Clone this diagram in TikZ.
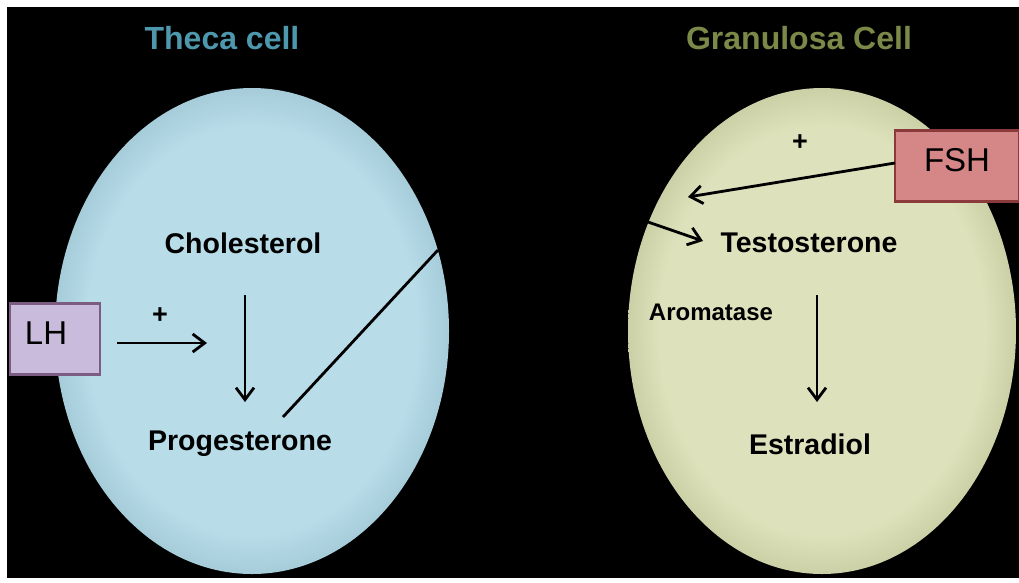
\documentclass[tikz,border=0pt]{standalone}
\usepackage{fontspec}
\setmainfont{Liberation Sans}
\usetikzlibrary{arrows.meta}
\definecolor{bgblack}{HTML}{000000}
\definecolor{thecafill}{HTML}{B8DCE8}
\definecolor{thecarim}{HTML}{A6CCDA}
\definecolor{granfill}{HTML}{DEE2BC}
\definecolor{granrim}{HTML}{CCD0A6}
\definecolor{thecatitle}{HTML}{4E98AE}
\definecolor{grantitle}{HTML}{7A8848}
\definecolor{lhfill}{HTML}{C9BBDC}
\definecolor{lhdraw}{HTML}{7C5C80}
\definecolor{fshfill}{HTML}{D58686}
\definecolor{fshdraw}{HTML}{8A3A3A}
\pgfdeclareradialshading{thecashade}{\pgfpoint{0bp}{0bp}}{color(0bp)=(thecafill); color(21bp)=(thecafill); color(25bp)=(thecarim); color(50bp)=(thecarim)}
\pgfdeclareradialshading{granshade}{\pgfpoint{0bp}{0bp}}{color(0bp)=(granfill); color(21bp)=(granfill); color(25bp)=(granrim); color(50bp)=(granrim)}
\tikzset{
  title/.style={font=\bfseries\fontsize{32}{34}\selectfont},
  mol/.style={font=\bfseries\fontsize{28.5}{30}\selectfont, text=black, inner sep=0pt},
  plus/.style={font=\bfseries\fontsize{27}{28}\selectfont, text=black, inner sep=0pt},
  hormone/.style={draw, line width=2.5pt, font=\fontsize{33}{35}\selectfont, inner sep=0pt},
  arr/.style={draw=black, line width=2.8pt, -{Straight Barb[length=12pt,width=18pt,line width=2.8pt]}},
  plainline/.style={draw=black, line width=2.8pt}
}
\begin{document}
\begin{tikzpicture}[x=1pt,y=-1pt]
\useasboundingbox (0,0) rectangle (1019,582);
\fill[white] (0,0) rectangle (1019,582);
\fill[bgblack] (7,7) rectangle (1019,578);
% cells
\shade[shading=thecashade] (252,331) ellipse [x radius=197, y radius=243];
\shade[shading=granshade] (822,331) ellipse [x radius=194, y radius=243];
% titles
\node[title, text=thecatitle] (thecaT) at (222,38) {Theca cell};
\node[title, text=grantitle] (granT) at (799,38) {Granulosa Cell};
% molecules
\node[mol] (chol) at (243,243) {Cholesterol};
\node[mol] (prog) at (240,444) {Progesterone};
\node[mol] (test) at (809,243) {Testosterone};
\node[mol] (estr) at (810,444) {Estradiol};
\node[mol, font=\bfseries\fontsize{24}{26}\selectfont] (arom) at (711,312) {Aromatase};
% hormone boxes
\node[hormone, fill=lhfill, draw=lhdraw, minimum width=90pt, minimum height=71pt] (LH) at (55,339) {};
\node[font=\fontsize{33}{35}\selectfont, inner sep=0pt] (LHt) at (46,333) {LH};
\node[hormone, fill=fshfill, draw=fshdraw, minimum width=124pt, minimum height=71pt] (FSH) at (957,166) {};
\node[font=\fontsize{33}{35}\selectfont, inner sep=0pt] (FSHt) at (957,160) {FSH};
% plus signs
\node[plus] (plus1) at (160,316) {+};
\node[plus] (plus2) at (800,143) {+};
% connectors
\coordinate (lhs) at (117,343);
\coordinate (lhe) at (207,343);
\draw[arr] (lhs) -- (lhe);
\coordinate (cs) at (245,295);
\coordinate (ce) at (245,402);
\draw[arr] (cs) -- (ce);
\coordinate (ts) at (817,295);
\coordinate (te) at (817,402);
\draw[arr] (ts) -- (te);
\coordinate (ps) at (283,417);
\coordinate (pm) at (438,250);
\coordinate (gm) at (648,222);
\coordinate (pe) at (703,241);
\draw[plainline] (ps) -- (pm);
\draw[arr] (gm) -- (pe);
\coordinate (fs) at (895,163);
\coordinate (fe) at (688,197);
\draw[arr] (fs) -- (fe);
\end{tikzpicture}
\end{document}
